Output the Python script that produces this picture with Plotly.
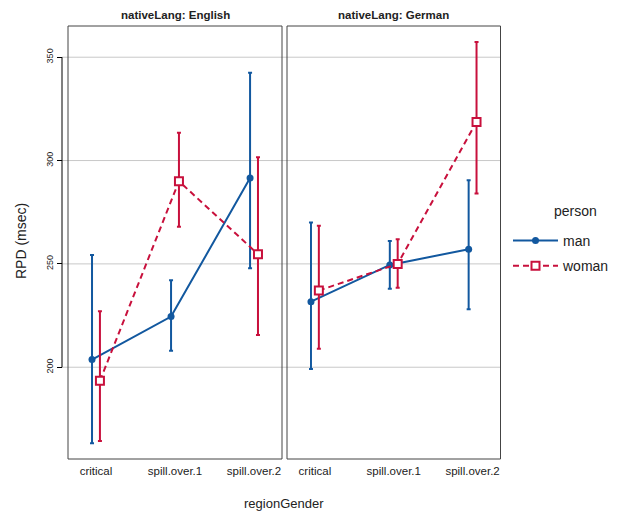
import plotly.graph_objects as go

# ---- data -------------------------------------------------------------
categories = ["critical", "spill.over.1", "spill.over.2"]
panels = ["English", "German"]

man_english = [203.7, 224.5, 291.5]
man_english_lo = [163.2, 208.0, 247.9]
man_english_hi = [254.3, 242.1, 342.5]

woman_english = [193.4, 290.0, 254.7]
woman_english_lo = [164.3, 268.0, 215.6]
woman_english_hi = [227.1, 313.5, 301.6]

man_german = [231.7, 249.5, 257.1]
man_german_lo = [199.2, 238.0, 228.1]
man_german_hi = [270.0, 261.1, 290.5]

woman_german = [237.1, 250.0, 318.7]
woman_german_lo = [208.9, 238.5, 284.0]
woman_german_hi = [268.5, 261.9, 357.4]

y_ticks = [200, 250, 300, 350]

# ---- geometry / style -------------------------------------------------
W, H = 619, 511
FONT = "Liberation Sans, Arial, sans-serif"
BLUE = "#12589f"
RED = "#c8103c"
DODGE = 0.05

px_x = lambda p: p / W
px_y = lambda p: (H - p) / H

panel_x = [(68, 282), (287, 500.5)]
panel_top, panel_bottom = 26, 459
y_range = [155.6, 365.1]
x_range = [-0.354, 2.354]

fig = go.Figure()


def err(center, lo, hi, color):
    return dict(type="data", symmetric=False,
                array=[h - c for c, h in zip(center, hi)],
                arrayminus=[c - l for c, l in zip(center, lo)],
                color=color, thickness=2, width=2)


series = [
    (man_english, man_english_lo, man_english_hi, woman_english, woman_english_lo, woman_english_hi, "x"),
    (man_german, man_german_lo, man_german_hi, woman_german, woman_german_lo, woman_german_hi, "x2"),
]

for i, (m, mlo, mhi, w, wlo, whi, xa) in enumerate(series):
    xs = list(range(len(categories)))
    fig.add_trace(go.Scatter(
        x=[v - DODGE for v in xs], y=m, xaxis=xa, yaxis="y",
        mode="lines+markers", name="man", legendgroup="man",
        showlegend=(i == 0),
        line=dict(color=BLUE, width=2),
        marker=dict(symbol="circle", size=7, color=BLUE),
        error_y=err(m, mlo, mhi, BLUE),
    ))
    fig.add_trace(go.Scatter(
        x=[v + DODGE for v in xs], y=w, xaxis=xa, yaxis="y",
        mode="lines+markers", name="woman", legendgroup="woman",
        showlegend=(i == 0),
        line=dict(color=RED, width=2, dash="6px,4px"),
        marker=dict(symbol="square", size=8, color="white",
                    line=dict(color=RED, width=2)),
        error_y=err(w, wlo, whi, RED),
    ))

xaxis_common = dict(
    range=x_range, tickvals=[0, 1, 2], ticktext=categories,
    showgrid=False, zeroline=False, showline=False, ticks="",
    ticklabelstandoff=3,
    tickfont=dict(size=11.5, color="#222222", family=FONT),
    anchor="y", fixedrange=True,
)

fig.update_layout(
    width=W, height=H,
    margin=dict(l=0, r=0, t=0, b=0),
    paper_bgcolor="white", plot_bgcolor="white",
    font=dict(family=FONT, color="#222222"),
    xaxis=dict(domain=[px_x(panel_x[0][0]), px_x(panel_x[0][1])], **xaxis_common),
    xaxis2=dict(domain=[px_x(panel_x[1][0]), px_x(panel_x[1][1])], **xaxis_common),
    yaxis=dict(
        domain=[px_y(panel_bottom), px_y(panel_top)],
        range=y_range, anchor="free", position=px_x(62),
        tickvals=y_ticks, ticks="outside", ticklen=5, tickcolor="black",
        tickangle=-90, tickfont=dict(size=9, color="#222222"),
        showgrid=False, zeroline=False, showline=False,
    ),
    legend=dict(
        x=px_x(508), y=px_y(225), xanchor="left", yanchor="top",
        itemwidth=45, tracegroupgap=4,
        font=dict(size=14, color="#222222"),
        bgcolor="rgba(0,0,0,0)",
    ),
    showlegend=True,
)

shapes = []
# horizontal reference lines spanning both panels
for t in y_ticks:
    shapes.append(dict(type="line", xref="paper", yref="y",
                       x0=px_x(62), x1=px_x(panel_x[1][1]), y0=t, y1=t,
                       line=dict(color="#c8c8c8", width=1), layer="below"))
# y axis line over the tick span
shapes.append(dict(type="line", xref="paper", yref="y",
                   x0=px_x(62), x1=px_x(62), y0=y_ticks[0], y1=y_ticks[-1],
                   line=dict(color="black", width=1)))
# panel frames
for x0, x1 in panel_x:
    shapes.append(dict(type="rect", xref="paper", yref="paper",
                       x0=px_x(x0), x1=px_x(x1), y0=px_y(panel_bottom), y1=px_y(panel_top),
                       line=dict(color="#444444", width=1), layer="above"))
fig.update_layout(shapes=shapes)

annotations = []
for (x0, x1), lang in zip(panel_x, panels):
    annotations.append(dict(
        text=f"<b>nativeLang: {lang}</b>", xref="paper", yref="paper",
        x=px_x((x0 + x1) / 2), y=px_y(15), xanchor="center", yanchor="middle",
        showarrow=False, font=dict(size=11.5, color="#222222")))
annotations.append(dict(
    text="regionGender", xref="paper", yref="paper",
    x=px_x(284), y=px_y(503), xanchor="center", yanchor="middle",
    showarrow=False, font=dict(size=13, color="#222222")))
annotations.append(dict(
    text="RPD (msec)", xref="paper", yref="paper", textangle=-90,
    x=px_x(21), y=px_y(241), xanchor="center", yanchor="middle",
    showarrow=False, font=dict(size=14, color="#222222")))
annotations.append(dict(
    text="person", xref="paper", yref="paper",
    x=px_x(575), y=px_y(211), xanchor="center", yanchor="middle",
    showarrow=False, font=dict(size=14, color="#222222")))
fig.update_layout(annotations=annotations)

fig.write_html("out.html")
